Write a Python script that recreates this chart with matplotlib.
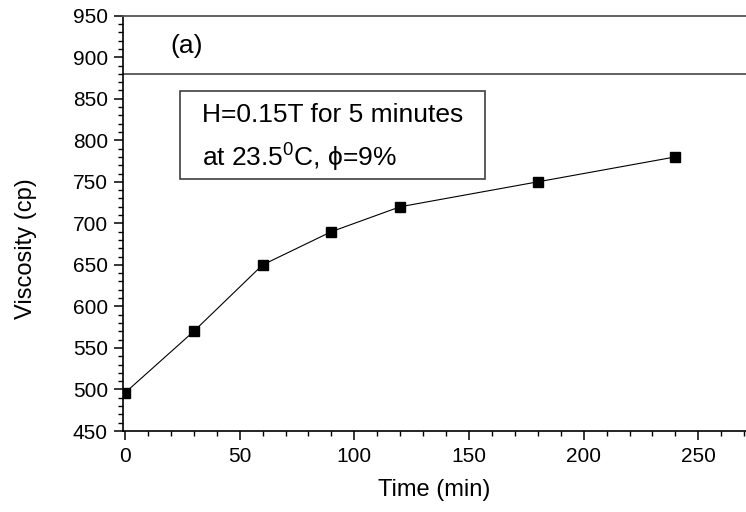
import matplotlib
import numpy as np

matplotlib.use('Agg')
import matplotlib.pyplot as plt
from matplotlib.patches import Rectangle

plt.rcParams['font.family'] = ['Liberation Sans', 'DejaVu Sans']
plt.rcParams['mathtext.fontset'] = 'custom'
plt.rcParams['mathtext.rm'] = 'Liberation Sans'

# data
time_min = [0, 30, 60, 90, 120, 180, 240]
viscosity = [496, 570, 650, 690, 720, 750, 780]

x_ticks = [0, 50, 100, 150, 200, 250]
y_ticks = [450, 500, 550, 600, 650, 700, 750, 800, 850, 900, 950]
line_level = 880

fig = plt.figure(figsize=(7.46, 5.12), dpi=100)
ax = fig.add_axes([0.1645, 0.1582, 0.8355, 0.8111])

ax.plot(time_min, viscosity, color='black', lw=0.8, marker='s',
        markersize=7, markerfacecolor='black', markeredgecolor='black')

ax.axhline(line_level, color='#555555', lw=1.3)

ax.set_xlim(-1, 270.8)
ax.set_ylim(450, 950)
ax.set_xticks(x_ticks)
ax.set_yticks(y_ticks)
ax.set_xticks(np.arange(0, 271, 10), minor=True)
ax.set_yticks(np.arange(450, 951, 10), minor=True)

ax.spines['right'].set_visible(False)
ax.spines['top'].set_color('#555555')
ax.spines['top'].set_linewidth(1.3)
ax.spines['left'].set_linewidth(1.2)
ax.spines['bottom'].set_linewidth(1.2)

ax.tick_params(which='major', direction='out', length=6.7, width=1.1,
               labelsize=15, pad=4, top=False, right=False)
ax.tick_params(which='minor', direction='out', length=3.5, width=1.0,
               top=False, right=False)
ax.tick_params(axis='x', which='major', pad=5)

ax.set_xlabel('Time (min)', fontsize=17)
ax.set_ylabel('Viscosity (cp)', fontsize=17)
ax.xaxis.set_label_coords(0.5, -0.115)
ax.yaxis.set_label_coords(-0.137, 0.438)

ax.text(19.6, 905, '(a)', fontsize=19)

box = Rectangle((24, 753), 133, 106, fill=False, edgecolor='#404040', lw=1.2)
ax.add_patch(box)
ax.text(33.6, 822, 'H=0.15T for 5 minutes', fontsize=19)
ax.text(33.6, 770, r'at 23.5$^{\mathdefault{0}}$C, ϕ=9%', fontsize=19)

plt.savefig('out.png', dpi=100)
